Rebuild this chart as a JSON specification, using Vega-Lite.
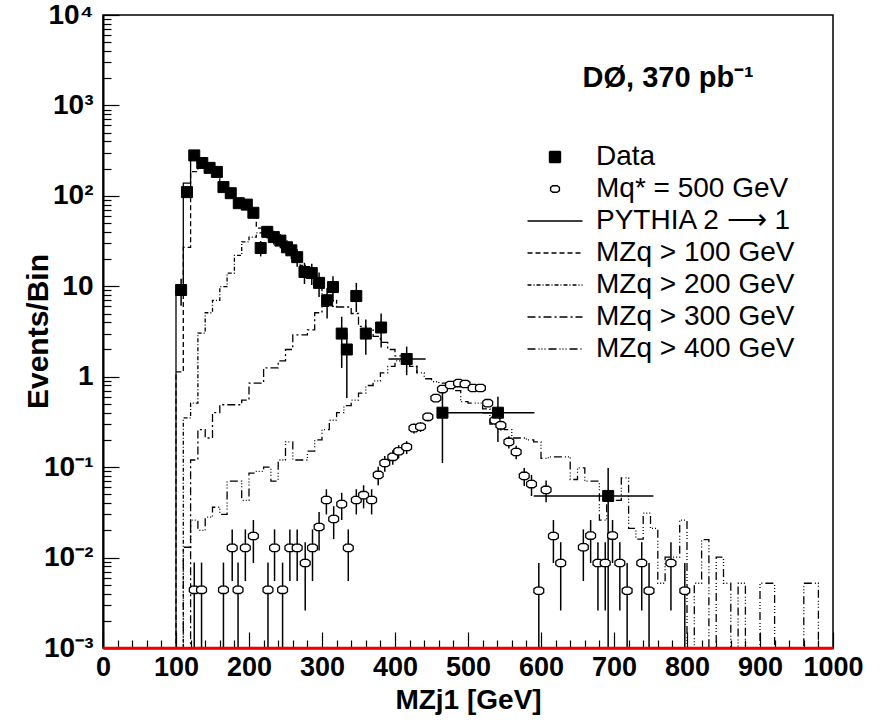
{
  "$schema": "https://vega.github.io/schema/vega-lite/v6.json",
  "width": 730,
  "height": 633,
  "autosize": {"type": "none"},
  "padding": {"left": 103, "top": 15, "right": 56, "bottom": 74},
  "background": "white",
  "config": {
    "view": {"stroke": "black", "strokeWidth": 1.5},
    "font": "Liberation Sans",
    "axis": {"grid": false, "domainColor": "black", "domainWidth": 2, "tickColor": "black", "tickWidth": 1.2, "labelColor": "black", "titleColor": "black", "labelFont": "Liberation Sans", "titleFont": "Liberation Sans", "labelFontWeight": "bold", "titleFontWeight": "bold", "labelOverlap": false}
  },
  "datasets": {
    "data": [
      {"x":107,"v":9.1,"lo":6.1,"hi":12.1},
      {"x":115,"v":110,"lo":100,"hi":120},
      {"x":125,"v":280,"lo":263,"hi":297},
      {"x":136,"v":231,"lo":216,"hi":246},
      {"x":146,"v":204,"lo":190,"hi":218},
      {"x":156,"v":184,"lo":170,"hi":198},
      {"x":165,"v":125,"lo":114,"hi":136},
      {"x":175,"v":107,"lo":97,"hi":117},
      {"x":186,"v":83,"lo":74,"hi":92},
      {"x":197,"v":80,"lo":71,"hi":89},
      {"x":206,"v":65,"lo":57,"hi":73},
      {"x":216,"v":26.5,"lo":21.4,"hi":31.6},
      {"x":225,"v":40,"lo":33.7,"hi":46.3},
      {"x":234,"v":35,"lo":29,"hi":41},
      {"x":243,"v":32,"lo":26.3,"hi":37.7},
      {"x":252,"v":27,"lo":21.8,"hi":32.2},
      {"x":258,"v":25,"lo":20,"hi":30},
      {"x":266,"v":21,"lo":16.4,"hi":25.6},
      {"x":276,"v":14.4,"lo":10.6,"hi":18.2},
      {"x":286,"v":14,"lo":10.3,"hi":17.7},
      {"x":296,"v":10.9,"lo":7.6,"hi":14.2},
      {"x":307,"v":7.0,"lo":4.4,"hi":9.6},
      {"x":315,"v":9.8,"lo":6.7,"hi":12.9},
      {"x":327,"v":3.0,"lo":1.25,"hi":4.6},
      {"x":334,"v":2.0,"lo":0.58,"hi":3.04},
      {"x":347,"v":7.8,"lo":5.2,"hi":10.9},
      {"x":360,"v":3.0,"lo":1.75,"hi":4.3},
      {"x":381,"v":3.5,"lo":2.1,"hi":5.0},
      {"x":416,"v":1.57,"lo":1.04,"hi":2.15,"xlo":391,"xhi":442},
      {"x":465,"v":0.40,"lo":0.111,"hi":0.66,"xlo":465,"xhi":541},
      {"x":541,"v":0.40,"lo":0.19,"hi":0.60,"xlo":520,"xhi":591},
      {"x":692,"v":0.048,"lo":0.001,"hi":0.098,"xlo":590,"xhi":754}
    ],
    "signal": [
      {"x":125,"v":0.0044,"lo":0.001,"hi":0.0088},
      {"x":135,"v":0.0044,"lo":0.001,"hi":0.0088},
      {"x":165,"v":0.0044,"lo":0.001,"hi":0.0088},
      {"x":177,"v":0.0128,"lo":0.0055,"hi":0.0205},
      {"x":185,"v":0.0044,"lo":0.001,"hi":0.0088},
      {"x":195,"v":0.0128,"lo":0.0055,"hi":0.0205},
      {"x":206,"v":0.0173,"lo":0.0087,"hi":0.026},
      {"x":226,"v":0.0044,"lo":0.001,"hi":0.0088},
      {"x":235,"v":0.0128,"lo":0.0055,"hi":0.0205},
      {"x":246,"v":0.0044,"lo":0.001,"hi":0.0088},
      {"x":256,"v":0.0128,"lo":0.0055,"hi":0.0205},
      {"x":266,"v":0.0128,"lo":0.0055,"hi":0.0205},
      {"x":277,"v":0.0087,"lo":0.0026,"hi":0.0148},
      {"x":287,"v":0.0128,"lo":0.0055,"hi":0.0205},
      {"x":296,"v":0.0218,"lo":0.012,"hi":0.032},
      {"x":306,"v":0.0433,"lo":0.030,"hi":0.057},
      {"x":316,"v":0.0267,"lo":0.016,"hi":0.037},
      {"x":327,"v":0.039,"lo":0.026,"hi":0.052},
      {"x":336,"v":0.0128,"lo":0.0055,"hi":0.0205},
      {"x":347,"v":0.0433,"lo":0.030,"hi":0.057},
      {"x":357,"v":0.049,"lo":0.035,"hi":0.063},
      {"x":368,"v":0.0433,"lo":0.030,"hi":0.057},
      {"x":377,"v":0.082,"lo":0.063,"hi":0.101},
      {"x":386,"v":0.111,"lo":0.089,"hi":0.133},
      {"x":397,"v":0.13,"lo":0.106,"hi":0.154},
      {"x":405,"v":0.15,"lo":0.125,"hi":0.175},
      {"x":416,"v":0.167,"lo":0.14,"hi":0.194},
      {"x":426,"v":0.27,"lo":0.236,"hi":0.304},
      {"x":435,"v":0.28,"lo":0.245,"hi":0.315},
      {"x":445,"v":0.36,"lo":0.32,"hi":0.40},
      {"x":456,"v":0.58,"lo":0.53,"hi":0.63},
      {"x":465,"v":0.73,"lo":0.675,"hi":0.785},
      {"x":476,"v":0.81,"lo":0.75,"hi":0.87},
      {"x":487,"v":0.85,"lo":0.79,"hi":0.91},
      {"x":496,"v":0.83,"lo":0.77,"hi":0.89},
      {"x":507,"v":0.75,"lo":0.695,"hi":0.805},
      {"x":517,"v":0.75,"lo":0.695,"hi":0.805},
      {"x":527,"v":0.51,"lo":0.465,"hi":0.555},
      {"x":537,"v":0.33,"lo":0.292,"hi":0.368},
      {"x":545,"v":0.29,"lo":0.255,"hi":0.325},
      {"x":556,"v":0.19,"lo":0.161,"hi":0.219},
      {"x":566,"v":0.147,"lo":0.122,"hi":0.172},
      {"x":577,"v":0.080,"lo":0.062,"hi":0.098},
      {"x":587,"v":0.065,"lo":0.048,"hi":0.082},
      {"x":597,"v":0.0043,"lo":0.001,"hi":0.0087},
      {"x":607,"v":0.056,"lo":0.041,"hi":0.071},
      {"x":617,"v":0.0173,"lo":0.0087,"hi":0.026},
      {"x":627,"v":0.0087,"lo":0.0026,"hi":0.0148},
      {"x":658,"v":0.013,"lo":0.0055,"hi":0.0205},
      {"x":668,"v":0.0175,"lo":0.0087,"hi":0.026},
      {"x":678,"v":0.0087,"lo":0.0026,"hi":0.0148},
      {"x":688,"v":0.0087,"lo":0.0026,"hi":0.0148},
      {"x":698,"v":0.0175,"lo":0.0087,"hi":0.026},
      {"x":708,"v":0.0087,"lo":0.0026,"hi":0.0148},
      {"x":718,"v":0.0043,"lo":0.001,"hi":0.0087},
      {"x":738,"v":0.0087,"lo":0.0026,"hi":0.0148},
      {"x":748,"v":0.0043,"lo":0.001,"hi":0.0087},
      {"x":778,"v":0.0087,"lo":0.0026,"hi":0.0148},
      {"x":797,"v":0.0043,"lo":0.001,"hi":0.0087}
    ],
    "mc": [
      {"s":"py","x":90,"v":0.001},{"s":"py","x":100,"v":9},{"s":"py","x":110,"v":138},{"s":"py","x":120,"v":280},{"s":"py","x":130,"v":240},{"s":"py","x":140,"v":240},
      {"s":"m100","x":95,"v":0.001},{"s":"m100","x":100,"v":1.13},{"s":"m100","x":110,"v":27},{"s":"m100","x":120,"v":185},{"s":"m100","x":130,"v":220},{"s":"m100","x":140,"v":200},{"s":"m100","x":150,"v":175},{"s":"m100","x":160,"v":135},{"s":"m100","x":170,"v":105},{"s":"m100","x":180,"v":85},{"s":"m100","x":190,"v":72},{"s":"m100","x":200,"v":58},{"s":"m100","x":210,"v":44},{"s":"m100","x":220,"v":38},
      {"s":"m200","x":105,"v":0.001},{"s":"m200","x":110,"v":0.35},{"s":"m200","x":120,"v":0.51},{"s":"m200","x":130,"v":3.04},{"s":"m200","x":140,"v":5.1},{"s":"m200","x":150,"v":7},{"s":"m200","x":160,"v":9.9},{"s":"m200","x":170,"v":14},{"s":"m200","x":180,"v":22},{"s":"m200","x":190,"v":31},{"s":"m200","x":200,"v":35},{"s":"m200","x":210,"v":39},{"s":"m200","x":220,"v":38},{"s":"m200","x":230,"v":33},{"s":"m200","x":240,"v":30},{"s":"m200","x":250,"v":26},{"s":"m200","x":260,"v":22},{"s":"m200","x":270,"v":17},{"s":"m200","x":280,"v":14.5},{"s":"m200","x":290,"v":11.5},{"s":"m200","x":300,"v":8},{"s":"m200","x":310,"v":7},{"s":"m200","x":320,"v":5.9},
      {"s":"m300","x":110,"v":0.001},{"s":"m300","x":120,"v":0.12},{"s":"m300","x":130,"v":0.26},{"s":"m300","x":140,"v":0.21},{"s":"m300","x":150,"v":0.40},{"s":"m300","x":160,"v":0.49},{"s":"m300","x":190,"v":0.55},{"s":"m300","x":200,"v":0.85},{"s":"m300","x":220,"v":1.25},{"s":"m300","x":240,"v":1.5},{"s":"m300","x":250,"v":2.0},{"s":"m300","x":260,"v":2.9},{"s":"m300","x":280,"v":3.3},{"s":"m300","x":290,"v":5.1},{"s":"m300","x":300,"v":6},{"s":"m300","x":320,"v":5.9},{"s":"m300","x":340,"v":5.0},{"s":"m300","x":350,"v":3.6},{"s":"m300","x":360,"v":3.3},{"s":"m300","x":370,"v":2.8},{"s":"m300","x":380,"v":2.4},{"s":"m300","x":390,"v":2.0},{"s":"m300","x":400,"v":1.7},{"s":"m300","x":410,"v":1.5},{"s":"m300","x":420,"v":1.3},{"s":"m300","x":430,"v":1.1},
      {"s":"m400","x":105,"v":0.001},{"s":"m400","x":110,"v":0.013},{"s":"m400","x":120,"v":0.026},{"s":"m400","x":130,"v":0.02},{"s":"m400","x":140,"v":0.028},{"s":"m400","x":150,"v":0.036},{"s":"m400","x":160,"v":0.03},{"s":"m400","x":170,"v":0.07},{"s":"m400","x":190,"v":0.043},{"s":"m400","x":200,"v":0.086},{"s":"m400","x":210,"v":0.09},{"s":"m400","x":220,"v":0.1},{"s":"m400","x":230,"v":0.07},{"s":"m400","x":240,"v":0.12},{"s":"m400","x":250,"v":0.19},{"s":"m400","x":260,"v":0.12},{"s":"m400","x":280,"v":0.15},{"s":"m400","x":290,"v":0.2},{"s":"m400","x":300,"v":0.26},{"s":"m400","x":310,"v":0.33},{"s":"m400","x":320,"v":0.40},{"s":"m400","x":330,"v":0.48},{"s":"m400","x":340,"v":0.55},{"s":"m400","x":350,"v":0.66},{"s":"m400","x":360,"v":0.8},{"s":"m400","x":370,"v":0.9},{"s":"m400","x":380,"v":1.1},{"s":"m400","x":390,"v":1.3},{"s":"m400","x":400,"v":1.5},{"s":"m400","x":410,"v":1.6},{"s":"m400","x":420,"v":1.3},{"s":"m400","x":430,"v":1.1},{"s":"m400","x":440,"v":0.95},{"s":"m400","x":450,"v":0.88},{"s":"m400","x":460,"v":0.85},{"s":"m400","x":480,"v":0.7},{"s":"m400","x":490,"v":0.53},{"s":"m400","x":500,"v":0.51},{"s":"m400","x":520,"v":0.44},{"s":"m400","x":530,"v":0.30},{"s":"m400","x":540,"v":0.28},{"s":"m400","x":550,"v":0.26},{"s":"m400","x":560,"v":0.21},{"s":"m400","x":580,"v":0.20},{"s":"m400","x":590,"v":0.19},{"s":"m400","x":600,"v":0.125},{"s":"m400","x":610,"v":0.13},{"s":"m400","x":640,"v":0.073},{"s":"m400","x":650,"v":0.098},{"s":"m400","x":660,"v":0.07},{"s":"m400","x":680,"v":0.026},{"s":"m400","x":690,"v":0.043},{"s":"m400","x":710,"v":0.076},{"s":"m400","x":720,"v":0.021},{"s":"m400","x":730,"v":0.016},{"s":"m400","x":740,"v":0.031},{"s":"m400","x":750,"v":0.021},{"s":"m400","x":760,"v":0.0052},{"s":"m400","x":770,"v":0.0101},{"s":"m400","x":790,"v":0.026},{"s":"m400","x":800,"v":0.001},{"s":"m400","x":810,"v":0.0052},{"s":"m400","x":820,"v":0.0158},{"s":"m400","x":830,"v":0.001},{"s":"m400","x":840,"v":0.0101},{"s":"m400","x":850,"v":0.0052},{"s":"m400","x":860,"v":0.001},{"s":"m400","x":870,"v":0.0052},{"s":"m400","x":880,"v":0.001},{"s":"m400","x":900,"v":0.0052},{"s":"m400","x":920,"v":0.001},{"s":"m400","x":960,"v":0.0052},{"s":"m400","x":980,"v":0.001},{"s":"m400","x":1000,"v":0.001}
    ]
  },
  "layer": [
    {
      "data": {"name": "mc"},
      "mark": {"type": "line", "interpolate": "step-after", "color": "black", "strokeWidth": 1.3, "clip": true},
      "encoding": {
        "x": {"field": "x", "type": "quantitative", "scale": {"domain": [0, 1000], "nice": false, "zero": false},
          "axis": {"title": "MZj1 [GeV]", "titleFontSize": 28, "titleY": 60, "titleBaseline": "alphabetic", "labelFontSize": 27, "labelPadding": 22, "labelOverlap": false, "labelFlush": false, "labelSeparation": 0, "tickCount": 200, "domainColor": "#ee0000", "domainWidth": 2.5,
            "values": [0,20,40,60,80,100,120,140,160,180,200,220,240,260,280,300,320,340,360,380,400,420,440,460,480,500,520,540,560,580,600,620,640,660,680,700,720,740,760,780,800,820,840,860,880,900,920,940,960,980,1000],
            "labelExpr": "datum.value % 100 == 0 ? format(datum.value, 'd') : ''",
            "tickSize": {"condition": {"test": "datum.value % 100 == 0", "value": -16}, "value": -8}}},
        "y": {"field": "v", "type": "quantitative", "scale": {"type": "log", "domain": [0.001, 10000], "nice": false},
          "axis": {"title": "Events/Bin", "titleFontSize": 30, "titleX": -50, "titleY": 316, "titleBaseline": "bottom", "labelFontSize": 28, "labelPadding": 26, "labelOverlap": false, "tickCount": 200,
            "values": [0.001,0.002,0.003,0.004,0.005,0.006,0.007,0.008,0.009,0.01,0.02,0.03,0.04,0.05,0.06,0.07,0.08,0.09,0.1,0.2,0.3,0.4,0.5,0.6,0.7,0.8,0.9,1,2,3,4,5,6,7,8,9,10,20,30,40,50,60,70,80,90,100,200,300,400,500,600,700,800,900,1000,2000,3000,4000,5000,6000,7000,8000,9000,10000],
            "labelExpr": "datum.value==10000?'10⁴':datum.value==1000?'10³':datum.value==100?'10²':datum.value==10?'10':datum.value==1?'1':datum.value==0.1?'10⁻¹':datum.value==0.01?'10⁻²':datum.value==0.001?'10⁻³':''",
            "tickSize": {"condition": {"test": "abs(log(datum.value)/LN10 - round(log(datum.value)/LN10)) < 0.000001", "value": -16}, "value": -8}}},
        "strokeDash": {"field": "s", "type": "nominal",
          "scale": {"domain": ["data","sig","py","m100","m200","m300","m400"], "range": [[1,0],[1,0],[1,0],[5,3],[4,2,1,2],[8,3,2,3],[8,3,1,2,1,2,1,3]]},
          "legend": {"orient": "none", "legendX": 412, "legendY": 128, "title": null, "labelFontSize": 28, "labelFont": "Liberation Sans", "labelColor": "black", "labelLimit": 400, "rowPadding": 4, "symbolSize": 121, "symbolStrokeColor": "black", "symbolStrokeWidth": 1.4, "labelOffset": 27, "symbolOffset": 26,
            "labelExpr": "datum.value=='data'?'Data':datum.value=='sig'?'Mq* = 500 GeV':datum.value=='py'?'PYTHIA  2 ⟶ 1':datum.value=='m100'?'MZq > 100 GeV':datum.value=='m200'?'MZq > 200 GeV':datum.value=='m300'?'MZq > 300 GeV':'MZq > 400 GeV'"}}
      }
    },
    {
      "data": {"name": "data"},
      "mark": {"type": "rule", "color": "black", "strokeWidth": 1.5, "clip": true},
      "encoding": {
        "x": {"field": "x", "type": "quantitative"},
        "y": {"field": "lo", "type": "quantitative"},
        "y2": {"field": "hi"}
      }
    },
    {
      "data": {"name": "data"},
      "transform": [{"filter": "isValid(datum.xlo)"}],
      "mark": {"type": "rule", "color": "black", "strokeWidth": 1.5, "clip": true},
      "encoding": {
        "x": {"field": "xlo", "type": "quantitative"},
        "x2": {"field": "xhi"},
        "y": {"field": "v", "type": "quantitative"}
      }
    },
    {
      "data": {"name": "signal"},
      "mark": {"type": "rule", "color": "black", "strokeWidth": 1.5, "clip": true},
      "encoding": {
        "x": {"field": "x", "type": "quantitative"},
        "y": {"field": "lo", "type": "quantitative"},
        "y2": {"field": "hi"}
      }
    },
    {
      "data": {"name": "signal"},
      "transform": [{"calculate": "'sig'", "as": "s"}],
      "mark": {"type": "point", "filled": true, "size": 150, "stroke": "black", "strokeWidth": 1.3, "opacity": 1},
      "encoding": {
        "x": {"field": "x", "type": "quantitative"},
        "y": {"field": "v", "type": "quantitative"},
        "shape": {"field": "s", "type": "nominal", "scale": {"domain": ["data","sig","py","m100","m200","m300","m400"], "range": ["square","M-0.8,-0.3L-0.4,-0.6L0.4,-0.6L0.8,-0.3L0.8,0.3L0.4,0.6L-0.4,0.6L-0.8,0.3Z","M-5,0L5,0","M-5,0L5,0","M-5,0L5,0","M-5,0L5,0","M-5,0L5,0"]}, "legend": null},
        "fill": {"field": "s", "type": "nominal", "scale": {"domain": ["data","sig","py","m100","m200","m300","m400"], "range": ["black","white","transparent","transparent","transparent","transparent","transparent"]}, "legend": null}
      }
    },
    {
      "data": {"name": "data"},
      "transform": [{"calculate": "'data'", "as": "s"}],
      "mark": {"type": "point", "filled": true, "size": 121, "stroke": "black", "strokeWidth": 1, "opacity": 1},
      "encoding": {
        "x": {"field": "x", "type": "quantitative"},
        "y": {"field": "v", "type": "quantitative"},
        "shape": {"field": "s", "type": "nominal", "legend": null},
        "fill": {"field": "s", "type": "nominal", "legend": null}
      }
    },
    {
      "data": {"values": [{}]},
      "mark": {"type": "rule", "color": "#ee0000", "strokeWidth": 2.5},
      "encoding": {"y": {"datum": 0.001}}
    },
    {
      "data": {"values": [{}]},
      "mark": {"type": "text", "align": "left", "baseline": "middle", "fontSize": 29, "fontWeight": "bold", "font": "Liberation Sans", "color": "black"},
      "encoding": {"x": {"datum": 657}, "y": {"datum": 2000}, "text": {"value": "DØ, 370 pb⁻¹"}}
    }
  ]
}
